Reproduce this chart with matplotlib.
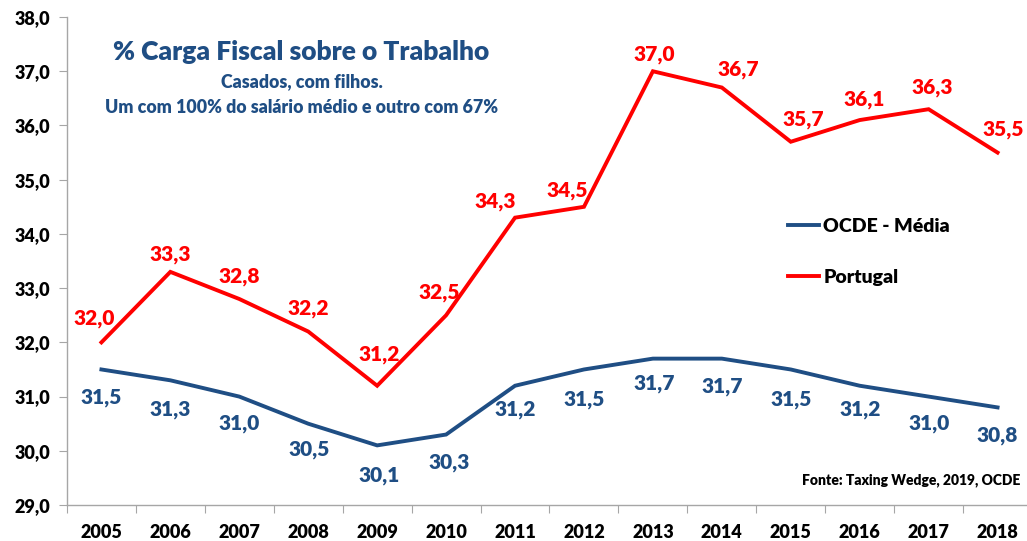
import matplotlib
matplotlib.use("Agg")
import matplotlib.pyplot as plt
from matplotlib.ticker import FixedLocator, NullFormatter
from matplotlib import font_manager

years = ["2005", "2006", "2007", "2008", "2009", "2010", "2011",
         "2012", "2013", "2014", "2015", "2016", "2017", "2018"]
ocde = [31.5, 31.3, 31.0, 30.5, 30.1, 30.3, 31.2, 31.5, 31.7, 31.7, 31.5, 31.2, 31.0, 30.8]
portugal = [32.0, 33.3, 32.8, 32.2, 31.2, 32.5, 34.3, 34.5, 37.0, 36.7, 35.7, 36.1, 36.3, 35.5]

# label offsets in pixels (dx, dy), style only
pt_off = [(-7, 24), (0, 17), (0, 22), (0, 23), (2, 31), (-7, 23), (-20, 16),
          (-17, 16), (1, 17), (16, 18), (13, 22), (4, 21), (4, 22), (6, 23)]
oc_off = [(0, -28), (0, -29), (0, -27), (1, -26), (2, -30), (3, -28), (0, -24),
          (0, -30), (1, -25), (0, -28), (0, -30), (0, -24), (0, -27), (0, -28)]

BLUE = "#1F4E84"
RED = "#FF0000"
FONT = "Lato"
weights = {f.weight for f in font_manager.fontManager.ttflist if f.name == FONT}
W = "heavy" if any((isinstance(w, int) and w >= 800) or w in ("heavy", "black") for w in weights) else "bold"

fig = plt.figure(figsize=(10.27, 5.41), dpi=100)
ax = fig.add_axes([0.0652, 0.0665, 0.9397, 0.902])

x = list(range(len(years)))
ax.plot(x, ocde, color=BLUE, lw=2.8, solid_joinstyle="miter", label="OCDE - Média")
ax.plot(x, portugal, color=RED, lw=2.8, solid_joinstyle="miter", label="Portugal")

def fmt(v):
    return f"{v:.1f}".replace(".", ",")

for i, v in enumerate(portugal):
    ax.annotate(fmt(v), (i, v), xytext=(pt_off[i][0], pt_off[i][1]),
                textcoords="offset pixels", ha="center", va="center",
                color=RED, fontsize=15, fontweight=W, family=FONT)
for i, v in enumerate(ocde):
    ax.annotate(fmt(v), (i, v), xytext=(oc_off[i][0], oc_off[i][1]),
                textcoords="offset pixels", ha="center", va="center",
                color=BLUE, fontsize=15, fontweight=W, family=FONT)

ax.set_ylim(29, 38)
ax.set_xlim(-0.5, len(years) - 0.5)
ax.set_yticks([29 + i for i in range(10)])
ax.set_yticklabels([fmt(29 + i) for i in range(10)], fontsize=13,
                   fontweight=W, family=FONT)
ax.xaxis.set_major_locator(FixedLocator([i - 0.5 for i in range(len(years) + 1)]))
ax.xaxis.set_major_formatter(NullFormatter())
ax.xaxis.set_minor_locator(FixedLocator(x))
ax.set_xticklabels(years, minor=True, fontsize=13, fontweight=W, family=FONT)
ax.tick_params(axis="x", which="major", length=6, color="#A6A6A6", direction="out")
ax.tick_params(axis="x", which="minor", length=0, pad=14)
ax.tick_params(axis="y", length=6, color="#A6A6A6", direction="out", pad=6)

for s in ["top", "right"]:
    ax.spines[s].set_visible(False)
for s in ["left", "bottom"]:
    ax.spines[s].set_color("#A6A6A6")
    ax.spines[s].set_linewidth(1.0)

leg = fig.legend(loc="upper left", bbox_to_anchor=(770 / 1027, 1 - 200 / 541),
                 frameon=False, handlelength=1.6, handletextpad=0.25,
                 labelspacing=1.75, prop={"family": FONT, "weight": W, "size": 14})

fig.text(301 / 1027, 1 - 52 / 541, "% Carga Fiscal sobre o Trabalho", ha="center",
         va="center", color=BLUE, fontsize=19, fontweight=W, family=FONT)
fig.text(302 / 1027, 1 - 82 / 541, "Casados, com filhos.", ha="center",
         va="center", color=BLUE, fontsize=12.8, fontweight=W, family=FONT)
fig.text(302 / 1027, 1 - 107 / 541, "Um com 100% do salário médio e outro com 67%",
         ha="center", va="center", color=BLUE, fontsize=12.8, fontweight=W, family=FONT)
fig.text(1020 / 1027, 1 - 480 / 541, "Fonte: Taxing Wedge, 2019, OCDE", ha="right",
         va="center", color="black", fontsize=10, fontweight=W, family=FONT)

fig.savefig("out.png", dpi=100)
